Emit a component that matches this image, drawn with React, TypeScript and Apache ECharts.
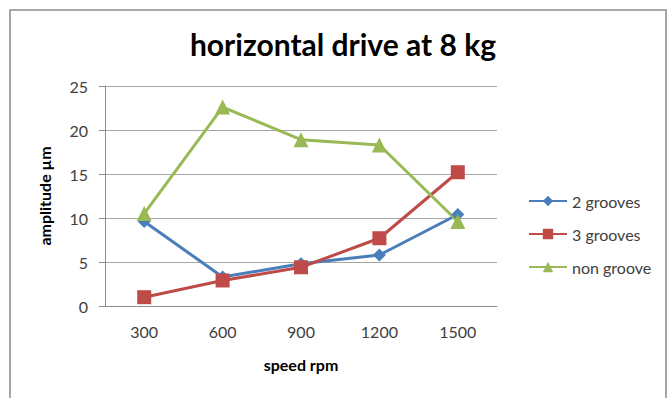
import React, { useEffect, useRef } from "react";
import * as echarts from "echarts";

const speeds = ["300", "600", "900", "1200", "1500"];
const twoGrooves = [9.6, 3.3, 4.8, 5.8, 10.4];
const threeGrooves = [1.0, 2.9, 4.4, 7.7, 15.2];
const nonGroove = [10.5, 22.6, 18.9, 18.3, 9.6];

const FONT = "Lato, 'Open Sans', sans-serif";
const TEXT = "#404040";

export default function App() {
  const ref = useRef<HTMLDivElement>(null);

  useEffect(() => {
    if (!ref.current) return;
    const chart = echarts.init(ref.current, undefined, { renderer: "svg" });
    const lineSeries = (name: string, data: number[], color: string, symbol: string, size: number) => ({
      name,
      type: "line",
      data,
      symbol,
      symbolSize: size,
      lineStyle: { color, width: 3 },
      itemStyle: { color },
    });
    chart.setOption({
      animation: false,
      backgroundColor: "#ffffff",
      textStyle: { fontFamily: FONT },
      title: {
        text: "horizontal drive at 8 kg",
        left: 338,
        top: 24,
        textAlign: "center",
        textStyle: { fontFamily: FONT, fontSize: 30, fontWeight: "bold", color: "#000" },
      },
      graphic: [
        {
          type: "rect",
          shape: { x: 10, y: 10, width: 656, height: 400 },
          style: { fill: "none", stroke: "#8c8c8c", lineWidth: 1.5 },
          silent: true,
        },
      ],
      legend: {
        orient: "vertical",
        left: 523,
        top: 188,
        itemGap: 17,
        itemWidth: 38,
        itemHeight: 13,
        textStyle: { fontFamily: FONT, fontSize: 16, color: TEXT },
        data: ["2 grooves", "3 grooves", "non groove"],
      },
      grid: { left: 105, right: 175, top: 86, bottom: 92 },
      xAxis: {
        type: "category",
        data: speeds,
        boundaryGap: true,
        name: "speed rpm",
        nameLocation: "middle",
        nameGap: 50,
        nameTextStyle: { fontFamily: FONT, fontSize: 16, fontWeight: "bold", color: "#000" },
        axisLine: { lineStyle: { color: "#8c8c8c", width: 1 } },
        axisTick: { show: false },
        axisLabel: { fontFamily: FONT, fontSize: 16, color: TEXT, margin: 17 },
      },
      yAxis: {
        type: "value",
        min: 0,
        max: 25,
        interval: 5,
        name: "amplitude µm",
        nameLocation: "middle",
        nameGap: 53,
        nameTextStyle: { fontFamily: FONT, fontSize: 16, fontWeight: "bold", color: "#000" },
        axisLine: { show: true, lineStyle: { color: "#8c8c8c", width: 1 } },
        axisTick: { show: true, length: 6, lineStyle: { color: "#8c8c8c" } },
        axisLabel: { fontFamily: FONT, fontSize: 16, color: TEXT, margin: 17 },
        splitLine: { lineStyle: { color: "#a6a6a6", width: 1 } },
      },
      series: [
        lineSeries("2 grooves", twoGrooves, "#4a7ebb", "diamond", 13),
        lineSeries("3 grooves", threeGrooves, "#be4b48", "rect", 14),
        lineSeries("non groove", nonGroove, "#98b954", "triangle", 15),
      ],
    });
    return () => chart.dispose();
  }, []);

  return (
    <div
      ref={ref}
      style={{ position: "fixed", left: 0, top: 0, width: 672, height: 398 }}
    />
  );
}
